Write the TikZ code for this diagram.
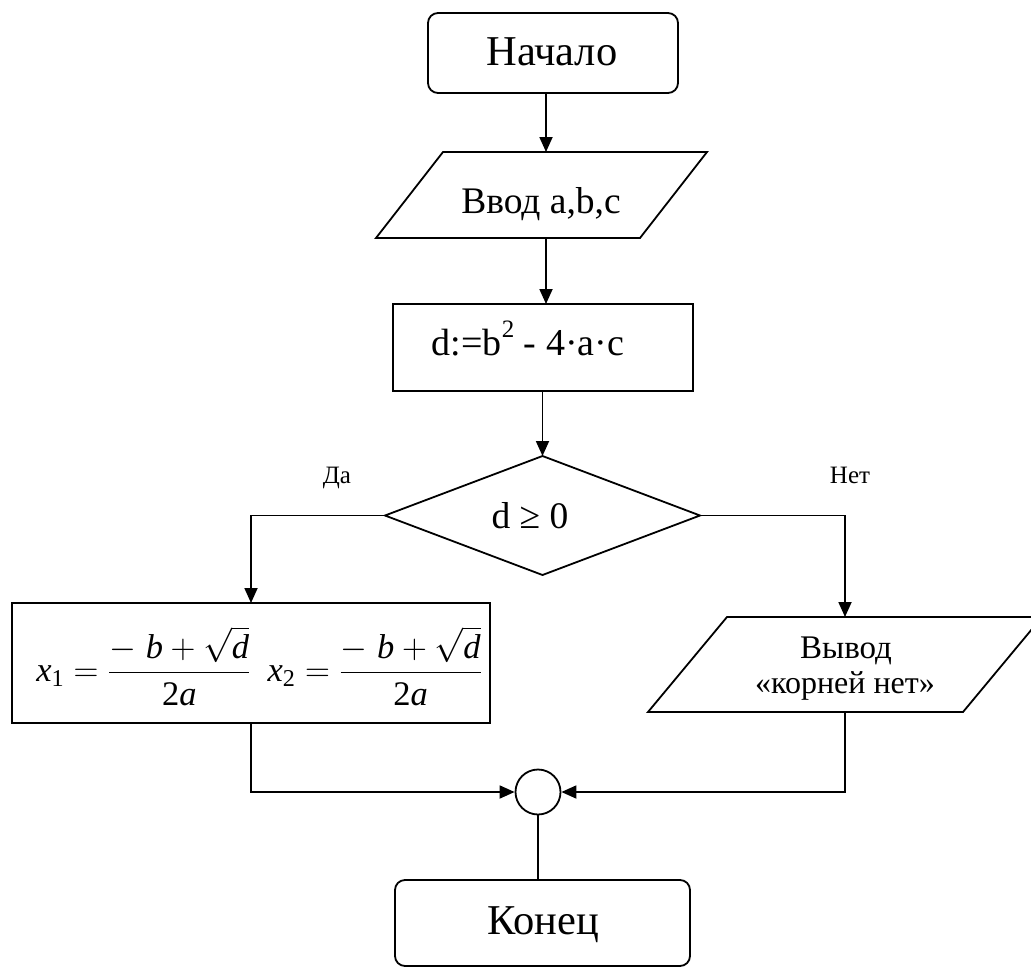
\documentclass[tikz,border=0pt]{standalone}
\usepackage{fix-cm}
\usepackage{amsmath}
\usepackage{fontspec}
\setmainfont{Liberation Serif}
\usetikzlibrary{arrows.meta,calc}
\newcommand{\tvar}[1]{\text{\itshape #1}}
\begin{document}
\begin{tikzpicture}[x=1pt,y=-1pt,line width=1.8pt,
  arr/.style={-{Triangle[length=15pt,width=13pt]}},
  termbox/.style={draw,rounded corners=10pt,inner sep=0pt},
  shapebox/.style={inner sep=0pt,outer sep=0pt},
  txt/.style={inner sep=0pt,anchor=base},
  big/.style={font=\fontsize{42.5}{50}\selectfont},
  mid/.style={font=\fontsize{37.5}{44}\selectfont},
  small/.style={font=\fontsize{33}{38}\selectfont},
  tiny/.style={font=\fontsize{25}{30}\selectfont}]
\useasboundingbox (0,0) rectangle (1031,967);
\fill[white] (0,0) rectangle (1031,967);

% start
\node[termbox,minimum width=250pt,minimum height=80pt] (start) at (553,53) {};
\node[txt,big] (starttext) at (552,65) {Начало};

% input
\node[shapebox,minimum width=264pt,minimum height=86pt] (in) at (541.5,195) {};
\draw ([xshift=33.5pt]in.north west) -- ([xshift=33.5pt]in.north east)
  -- ([xshift=-33.5pt]in.south east) -- ([xshift=-33.5pt]in.south west) -- cycle;
\node[txt,mid] (intext) at (541,213) {Ввод a,b,c};

% calculation
\node[draw,shapebox,minimum width=300pt,minimum height=87pt] (calc) at (543,347.5) {};
\node[txt,font=\fontsize{38}{44}\selectfont] (calctext) at (528,355) {d:=b\raisebox{0.45em}{\fontsize{25}{28}\selectfont 2} - 4·a·c};

% decision
\node[shapebox,minimum width=315pt,minimum height=119pt] (dec) at (542.5,515.5) {};
\draw (dec.west) -- (dec.north) -- (dec.east) -- (dec.south) -- cycle;
\node[txt,mid] (dectext) at (530,528) {d ≥ 0};
\node[txt,tiny] (yes) at (337,483) {Да};
\node[txt,tiny] (no) at (850,483) {Нет};

% formula
\node[draw,shapebox,minimum width=478pt,minimum height=120pt] (form) at (251,663) {};
\node[inner sep=0pt,font=\fontsize{34.5}{40}\selectfont] (formtext) at (259,666)
  {$\tvar{x}_{\text{1}} = \dfrac{-\;\tvar{b}+\sqrt{\tvar{d}}}{\text{2}\tvar{a}}\enspace
    \tvar{x}_{\text{2}} = \dfrac{-\;\tvar{b}+\sqrt{\tvar{d}}}{\text{2}\tvar{a}}$};

% output
\node[shapebox,minimum width=315pt,minimum height=95pt] (out) at (845,664.5) {};
\draw ([xshift=39.5pt]out.north west) -- ([xshift=39.5pt]out.north east)
  -- ([xshift=-39.5pt]out.south east) -- ([xshift=-39.5pt]out.south west) -- cycle;
\node[txt,small] (outtext1) at (846,658) {Вывод};
\node[txt,font=\fontsize{32}{38}\selectfont] (outtext2) at (845,693) {«корней нет»};

% junction
\node[draw,circle,minimum size=45pt,inner sep=0pt] (j) at (538,792) {};

% end
\node[termbox,minimum width=295pt,minimum height=86pt] (end) at (542.5,923) {};
\node[txt,big] (endtext) at (543,934) {Конец};

% connectors
\coordinate (c) at (546,0);
\draw[arr] (start.south -| c) -- (in.north -| c);
\draw[arr] (in.south -| c) -- (calc.north -| c);
\draw[arr] (calc.south -| dec.north) -- (dec.north);
\draw[arr] (dec.west) -| (form.north);
\draw[arr] (dec.east) -| (out.north);
\draw[arr] (form.south) |- (j.west);
\draw[arr] (out.south) |- (j.east);
\draw (j.south) -- (j.south |- end.north);
\end{tikzpicture}
\end{document}
